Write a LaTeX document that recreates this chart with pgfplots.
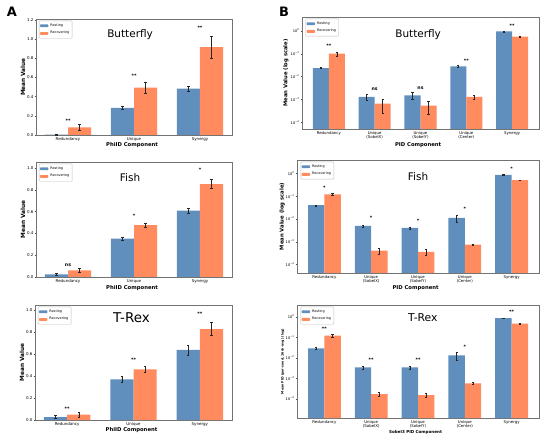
\documentclass[border=0pt]{standalone}
\usepackage{fontspec}
\setmainfont{DejaVu Sans}
\usepackage{pgfplots}
\pgfplotsset{compat=1.18}
\definecolor{rest}{RGB}{96,143,190}
\definecolor{recov}{RGB}{255,139,94}
\tikzset{sig/.style={font=\bfseries\fontsize{4.7}{5}\selectfont, inner sep=0pt}}
\pgfplotsset{
  common/.style={
    scale only axis,
    axis line style={black!55, line width=0.4pt},
    tick style={black!70, line width=0.3pt},
    tick align=outside, major tick length=1.3bp,
    xtick pos=bottom, ytick pos=left,
    tick label style={font=\fontsize{4}{4.6}\selectfont},
    xticklabel style={inner sep=0.6bp},
    yticklabel style={inner sep=1bp},
    label style={font=\bfseries\fontsize{5.3}{6}\selectfont},
    legend style={at={(0.015,0.985)}, anchor=north west,
      font=\fontsize{3.4}{4}\selectfont, draw=black!25,
      rounded corners=0.8bp, inner sep=0.8bp, row sep=-0.4bp,
      cells={anchor=west}},
    legend image code/.code={\fill[##1] (0bp,-1.4bp) rectangle (8.5bp,1.4bp);},
    clip=false,
  },
  paneA/.style={common, xmin=-0.485, xmax=2.485, ymin=0,
    xtick={0,1,2}, xticklabels={Redundancy,Unique,Synergy},
    /pgf/number format/assume math mode=true,
    yticklabel style={/pgf/number format/fixed, /pgf/number format/fixed zerofill, /pgf/number format/precision=1},
    ylabel={Mean Value}, xlabel={PhiID Component},
    ylabel style={at={(axis description cs:-0.066,0.5)}, anchor=center, font=\bfseries\fontsize{5.8}{6}\selectfont},
    xlabel style={at={(axis description cs:0.49,0)}, yshift=-10.5bp, anchor=center, font=\bfseries\fontsize{5.3}{6}\selectfont},
  },
  paneB/.style={common, log origin=infty, xmin=-0.585, xmax=4.585,
    yminorticks=false,
    yticklabel style={font=\fontsize{3.6}{4}\selectfont, inner sep=1bp},
    xticklabel style={align=center, font=\fontsize{3.9}{4.1}\selectfont, inner sep=0.8bp},
    ytick={0.0001,0.001,0.01,0.1,1},
    yticklabels={10\textsuperscript{−4},10\textsuperscript{−3},10\textsuperscript{−2},10\textsuperscript{−1},10\textsuperscript{0}},
    xtick={0,1,2,3,4}, xticklabels={Redundancy,{Unique\\(SobelX)},{Unique\\(SobelY)},{Unique\\(Center)},Synergy},
  },
  resting/.style={ybar, bar width=0.35, bar shift=0pt, fill=rest, draw=none,
    error bars/.cd, y dir=both, y explicit,
    error bar style={black!85, line width=0.4pt},
    error mark options={black!85, rotate=90, mark size=1.1bp, line width=0.4pt}},
  recovering/.style={ybar, bar width=0.35, bar shift=0pt, fill=recov, draw=none,
    error bars/.cd, y dir=both, y explicit,
    error bar style={black!85, line width=0.4pt},
    error mark options={black!85, rotate=90, mark size=1.1bp, line width=0.4pt}},
}
\begin{document}
\begin{tikzpicture}
\useasboundingbox (0,0) rectangle (550bp,437bp);
\node[font=\bfseries\fontsize{13}{14}\selectfont] at (12bp,425bp) {A};
\node[font=\bfseries\fontsize{13}{14}\selectfont] at (284bp,425bp) {B};

% ---------- A Butterfly
\begin{axis}[paneA, at={(36bp,302bp)}, anchor=south west, width=196bp, height=116bp,
  ymax=1.21, ytick={0,0.2,0.4,0.6,0.8,1.0,1.2}]
\addplot[resting] coordinates {(-0.175,0.005)+-(0,0.002) (0.825,0.284)+-(0,0.017) (1.825,0.484)+-(0,0.025)};
\addplot[recovering] coordinates {(0.175,0.080)+-(0,0.033) (1.175,0.495)+-(0,0.056) (2.175,0.916)+-(0,0.11)};
\legend{Resting,Recovering}
\node[sig] at (axis cs:0,0.15) {**};
\node[sig] at (axis cs:1,0.62) {**};
\node[sig] at (axis cs:2,1.116) {**};
\node[font=\fontsize{10.5}{12}\selectfont] at (rel axis cs:0.48,0.862) {Butterfly};
\end{axis}

% ---------- A Fish
\begin{axis}[paneA, at={(36bp,160bp)}, anchor=south west, width=196bp, height=115bp,
  ymax=1.055, ytick={0,0.2,0.4,0.6,0.8,1.0}, xlabel style={yshift=-0.5bp}]
\addplot[resting] coordinates {(-0.175,0.024)+-(0,0.01) (0.825,0.352)+-(0,0.015) (1.825,0.609)+-(0,0.025)};
\addplot[recovering] coordinates {(0.175,0.061)+-(0,0.02) (1.175,0.477)+-(0,0.02) (2.175,0.853)+-(0,0.04)};
\legend{Resting,Recovering}
\node[sig] at (axis cs:0,0.107) {ns};
\node[sig] at (axis cs:1,0.56) {*};
\node[sig] at (axis cs:2,0.98) {*};
\node[font=\fontsize{10.5}{12}\selectfont] at (rel axis cs:0.48,0.86) {Fish};
\end{axis}

% ---------- A T-Rex
\begin{axis}[paneA, at={(35bp,17bp)}, anchor=south west, width=197bp, height=115bp,
  ymax=1.05, ytick={0,0.2,0.4,0.6,0.8,1.0}]
\addplot[resting] coordinates {(-0.175,0.027)+-(0,0.015) (0.825,0.371)+-(0,0.025) (1.825,0.641)+-(0,0.045)};
\addplot[recovering] coordinates {(0.175,0.049)+-(0,0.02) (1.175,0.462)+-(0,0.025) (2.175,0.830)+-(0,0.06)};
\legend{Resting,Recovering}
\node[sig] at (axis cs:0,0.10) {**};
\node[sig] at (axis cs:1,0.547) {**};
\node[sig] at (axis cs:2,0.973) {**};
\node[font=\fontsize{13.5}{15}\selectfont] at (rel axis cs:0.49,0.887) {T-Rex};
\end{axis}

% ---------- B Butterfly
\begin{semilogyaxis}[paneB, at={(302bp,308bp)}, anchor=south west, width=237bp, height=112bp,
  ymin=5.1e-5, ymax=4.0,
  ylabel={Mean Value (log scale)}, xlabel={PID Component},
  ylabel style={at={(axis description cs:-0.068,0.5)}, anchor=center},
  xlabel style={at={(axis description cs:0.49,0)}, yshift=-16bp, anchor=center}]
\addplot[resting] coordinates {(-0.175,0.0235)+-(0,0.001) (0.825,0.0013)+-(0,0.00035) (1.825,0.0015)+-(0,0.0005) (2.825,0.028)+-(0,0.002) (3.825,0.93)+-(0,0.02)};
\addplot[recovering] coordinates {(0.175,0.100)+-(0,0.02) (1.175,0.00065)+-(0,0.0004) (2.175,0.00053)+-(0,0.0003) (3.175,0.0013)+-(0,0.0003) (4.175,0.56)+-(0,0.03)};
\legend{Resting,Recovering}
\node[sig] at (axis cs:0,0.22) {**};
\node[sig] at (axis cs:1,0.0027) {ns};
\node[sig] at (axis cs:2,0.0032) {ns};
\node[sig] at (axis cs:3,0.051) {**};
\node[sig] at (axis cs:4,1.65) {**};
\node[font=\fontsize{10.5}{12}\selectfont] at (rel axis cs:0.49,0.84) {Butterfly};
\end{semilogyaxis}

% ---------- B Fish
\begin{semilogyaxis}[paneB, at={(297bp,164bp)}, anchor=south west, width=242bp, height=113bp,
  ymin=4.2e-5, ymax=3.9,
  ylabel={Mean Value (log scale)}, xlabel={PID Component},
  ylabel style={at={(axis description cs:-0.061,0.5)}, anchor=center},
  xlabel style={at={(axis description cs:0.49,0)}, yshift=-15bp, anchor=center}]
\addplot[resting] coordinates {(-0.175,0.040)+-(0,0.002) (0.825,0.0049)+-(0,0.0005) (1.825,0.0040)+-(0,0.0004) (2.825,0.011)+-(0,0.0035) (3.825,0.87)+-(0,0.02)};
\addplot[recovering] coordinates {(0.175,0.12)+-(0,0.012) (1.175,0.0004)+-(0,0.00013) (2.175,0.00036)+-(0,0.0001) (3.175,0.00074)+-(0,0.00007) (4.175,0.51)+-(0,0.015)};
\legend{Resting,Recovering}
\node[sig] at (axis cs:0,0.23) {*};
\node[sig] at (axis cs:1,0.011) {*};
\node[sig] at (axis cs:2,0.0087) {*};
\node[sig] at (axis cs:3,0.027) {*};
\node[sig] at (axis cs:4,1.66) {*};
\node[font=\fontsize{10.5}{12}\selectfont] at (rel axis cs:0.50,0.85) {Fish};
\end{semilogyaxis}

% ---------- B T-Rex
\begin{semilogyaxis}[paneB, at={(297bp,19bp)}, anchor=south west, width=242bp, height=113bp,
  ymin=1.17e-5, ymax=3.7,
  ylabel={Mean PID (per-seed, 16ch-avg) (log)}, xlabel={Sobel3 PID Component},
  ylabel style={at={(axis description cs:-0.059,0.5)}, anchor=center, font=\bfseries\fontsize{3.2}{4}\selectfont},
  xlabel style={at={(axis description cs:0.49,0)}, yshift=-14bp, anchor=center, font=\bfseries\fontsize{4.1}{5}\selectfont}]
\addplot[resting] coordinates {(-0.175,0.029)+-(0,0.002) (0.825,0.0034)+-(0,0.0006) (1.825,0.0034)+-(0,0.0006) (2.825,0.013)+-(0,0.005) (3.825,0.85)+-(0,0.02)};
\addplot[recovering] coordinates {(0.175,0.12)+-(0,0.015) (1.175,0.00017)+-(0,0.00003) (2.175,0.00015)+-(0,0.00003) (3.175,0.00056)+-(0,0.00007) (4.175,0.46)+-(0,0.01)};
\legend{Resting,Recovering}
\node[sig] at (axis cs:0,0.26) {**};
\node[sig] at (axis cs:1,0.0077) {**};
\node[sig] at (axis cs:2,0.0077) {**};
\node[sig] at (axis cs:3,0.034) {*};
\node[sig] at (axis cs:4,1.7) {**};
\node[font=\fontsize{10.8}{12}\selectfont] at (rel axis cs:0.52,0.885) {T-Rex};
\end{semilogyaxis}
\end{tikzpicture}
\end{document}
